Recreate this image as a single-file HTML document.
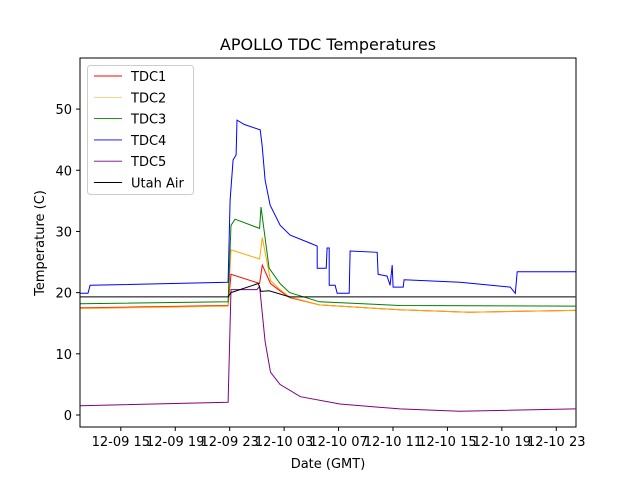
<!DOCTYPE html>
<html><head><meta charset="utf-8"><style>
body{margin:0;background:#fff;}
svg text{font-family:"DejaVu Sans","Liberation Sans",sans-serif;}
</style></head><body>
<svg id="chart" width="640" height="480" xmlns="http://www.w3.org/2000/svg">
<rect width="640" height="480" fill="#fff"/>
<text x="328" y="50" font-size="16" text-anchor="middle">APOLLO TDC Temperatures</text>
<g id="plot"></g>
<rect x="80" y="58" width="496" height="369" fill="none" stroke="#000" stroke-width="1"/>
<g id="axes"></g>
<text x="328" y="468" font-size="13" text-anchor="middle">Date (GMT)</text>
<text transform="translate(44,243) rotate(-90)" font-size="13" text-anchor="middle">Temperature (C)</text>
<g id="legend"></g>
</svg>
<script>
const xTicks=[15,19,23,27,31,35,39,43,47];
const xTickLabels=["12-09 15","12-09 19","12-09 23","12-10 03","12-10 07","12-10 11","12-10 15","12-10 19","12-10 23"];
const yTicks=[0,10,20,30,40,50];
const seriesNames=["TDC1","TDC2","TDC3","TDC4","TDC5","Utah Air"];
const seriesColors=["red","orange","green","blue","purple","black"];
const tdc1X=[12,22.88,23.1,25.2,25.4,26,26.7,27.4,29.6,35.5,40.6,48.4];
const tdc1Y=[17.5,17.9,23,21.5,24.5,21.5,20.3,19.2,18,17.2,16.8,17.1];
const tdc2X=[12,22.88,23.1,25.2,25.4,26,26.7,27.4,29.6,35.5,40.6,48.4];
const tdc2Y=[17.4,17.8,27,25.5,29,22,20.5,19.3,18,17.2,16.8,17.1];
const tdc3X=[12,22.88,23.1,23.4,25.2,25.3,25.9,26.7,27.4,29.6,35.5,48.4];
const tdc3Y=[18.2,18.5,31,32,30.5,34,24,21.5,20,18.5,17.9,17.8];
const tdc4X=[12,12.59,12.74,22.88,23.03,23.25,23.47,23.54,24.06,25.24,25.38,25.6,25.97,26.71,27.44,28.91,29.43,29.43,30.09,30.16,30.31,30.31,30.75,30.9,31.78,31.85,33.84,33.91,34.57,34.79,34.94,35.01,35.75,35.82,39.94,43.62,43.99,44.13,48.47];
const tdc4Y=[19.9,19.9,21.2,21.7,35.1,41.7,42.5,48.2,47.5,46.6,44.1,38.4,34.3,31,29.4,28.1,27.6,24,24,27.3,27.3,21.2,21.2,19.9,19.9,26.8,26.6,23,22.7,21.2,24.5,20.9,20.9,22.1,21.7,20.9,19.9,23.4,23.4];
const tdc5X=[12,22.88,23.1,25,25.2,25.6,26,26.7,28.2,31.1,35.5,39.9,48.4];
const tdc5Y=[1.5,2.1,20.5,20.5,21,12,7,5,3,1.8,1,0.6,1];
const airX=[12,22.88,23.1,25.1,25.3,25.9,27.4,48.4];
const airY=[19.3,19.3,20,21.5,20.2,20.3,19.3,19.3];
const xs=[tdc1X,tdc2X,tdc3X,tdc4X,tdc5X,airX], ys=[tdc1Y,tdc2Y,tdc3Y,tdc4Y,tdc5Y,airY];
const NS="http://www.w3.org/2000/svg";
const X0=80,X1=576,Y0=427,Y1=58,xmin=12,xmax=48.45,ymin=-1.96,ymax=58.35;
const sx=v=>X0+(v-xmin)/(xmax-xmin)*(X1-X0);
const sy=v=>Y0-(v-ymin)/(ymax-ymin)*(Y0-Y1);
function mk(t,a,p){const e=document.createElementNS(NS,t);for(const k in a)e.setAttribute(k,a[k]);p.appendChild(e);return e;}
const plot=document.getElementById('plot'),axes=document.getElementById('axes'),leg=document.getElementById('legend');
for(const i of [0,1,2,3,4,5]){
  const pts=xs[i].map((x,j)=>sx(x).toFixed(1)+","+sy(ys[i][j]).toFixed(1)).join(" ");
  const pl=mk('polyline',{points:pts,fill:'none',stroke:seriesColors[i],'stroke-width':1},plot);
  
  
}
xTicks.forEach((t,i)=>{
  const x=sx(t);
  const l=mk('line',{x1:x,x2:x,y1:427,y2:431,stroke:'#000'},axes);
  
  
  const tx=mk('text',{x:x,y:446,'font-size':13,'text-anchor':'middle'},axes);
  tx.textContent=xTickLabels[i];
  
  
});
yTicks.forEach(t=>{
  const y=sy(t);
  const l=mk('line',{x1:76,x2:80,y1:y,y2:y,stroke:'#000'},axes);
  
  
  const tx=mk('text',{x:72,y:y+5,'font-size':13,'text-anchor':'end'},axes);
  tx.textContent=t;
  
  
});
const box=mk('rect',{x:87.5,y:65.5,width:106,height:129,rx:3,fill:'#fff','fill-opacity':0.8,stroke:'#ccc'},leg);


seriesNames.forEach((n,i)=>{
  const y=76+i*21.3;
  const g=mk('g',{},leg);
  
  
  mk('line',{x1:94,x2:122,y1:y,y2:y,stroke:seriesColors[i],'stroke-width':i==1?0.5:0.9},g);
  const t=mk('text',{x:131,y:y+5,'font-size':13},g);t.textContent=n;
});
</script>
</body></html>
